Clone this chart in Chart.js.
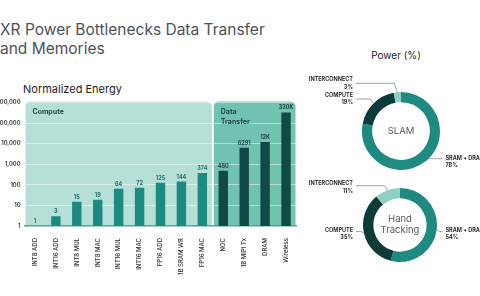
<!DOCTYPE html>
<html><head><meta charset="utf-8">
<script src="https://cdn.jsdelivr.net/npm/chart.js@4"></script>
<style>
html,body{margin:0;padding:0;background:#fff;width:480px;height:296px;overflow:hidden;position:relative;}
.abs{position:absolute;}
#title{left:0;top:21px;font:400 15.5px Inter,sans-serif;color:#4d525a;line-height:18.5px;white-space:nowrap;}
#sub{left:23px;top:82px;font:400 11px Inter,sans-serif;color:#1f2326;white-space:nowrap;}
#ptitle{left:396px;top:49px;transform:translateX(-50%);font:400 10px Inter,sans-serif;color:#1f2326;white-space:nowrap;}
</style></head><body>
<div class="abs" id="title">XR Power Bottlenecks Data Transfer<br>and Memories</div>
<div class="abs" id="sub">Normalized Energy</div>
<div class="abs" id="ptitle">Power (%)</div>
<canvas id="bar" class="abs" style="left:0;top:90px" width="300" height="185"></canvas>
<canvas id="d1" class="abs" style="left:300px;top:60px" width="180" height="120"></canvas>
<canvas id="d2" class="abs" style="left:300px;top:176px" width="180" height="120"></canvas>
<script>
// ---- data ----
const categories = ['INT8 ADD','INT16 ADD','INT8 MUL','INT8 MAC','INT16 MUL','INT16 MAC','FP16 ADD','1B SRAM WR','FP16 MAC','NOC','1B MIPI Tx','DRAM','Wireless'];
const energy = [1,3,15,19,64,72,125,144,374,480,6291,12000,330000];
const energyLabels = ['1','3','15','19','64','72','125','144','374','480','6291','12K','330K'];
const yTicks = [1,10,100,1000,10000,100000,1000000];
const panelNames = [['Compute'],['Data','Transfer']];
const panelSizes = [9,4];
const powerLabels = ['SRAM + DRAM','COMPUTE','INTERCONNECT'];
const slamPower = [78,19,3];
const handPower = [54,35,11];
const slamCenter = ['SLAM'];
const handCenter = ['Hand','Tracking'];

// ---- styles ----
const barColors = ['#1b8a80','#0f4a47'];
const panelColors = ['#b6dfd7','#72c2b1'];
const valueColors = ['#25706a','#1a4542'];
const powerColors = ['#1e8a80','#0d3b3a','#8fd0c3'];

function groupOf(i){let s=0;for(let g=0;g<panelSizes.length;g++){s+=panelSizes[g];if(i<s)return g;}return panelSizes.length-1;}

function panelRects(chart){
  const {chartArea:a, scales:{x}} = chart;
  const half = (x.getPixelForValue(1)-x.getPixelForValue(0))/2;
  let start = 0; const out=[];
  panelSizes.forEach((n,g)=>{
    const l = x.getPixelForValue(start)-half+1;
    const r = x.getPixelForValue(start+n-1)+half-1;
    out.push({l,r,t:a.top-1,b:a.bottom});
    start += n;
  });
  return out;
}

const panelPlugin = {
  id:'panels',
  beforeDraw(chart){
    const {ctx} = chart;
    panelRects(chart).forEach((p,g)=>{
      ctx.save();
      ctx.fillStyle = panelColors[g];
      ctx.beginPath();
      ctx.roundRect(p.l, p.t, p.r-p.l, p.b-p.t, [5,5,0,0]);
      ctx.fill();
      ctx.restore();
    });
  },
  beforeDatasetsDraw(chart){
    const {ctx} = chart;
    panelRects(chart).forEach((p,g)=>{
      ctx.save();
      ctx.fillStyle = '#1d4a47';
      ctx.font = 'bold 7px Inter, sans-serif';
      ctx.textBaseline = 'middle';
      panelNames[g].forEach((line,k)=>ctx.fillText(line, p.l+7, p.t+10+k*10));
      ctx.restore();
    });
  },
  afterDatasetsDraw(chart){
    const {ctx} = chart;
    const meta = chart.getDatasetMeta(0);
    ctx.save();
    ctx.font = 'bold 5.5px Inter, sans-serif';
    ctx.textAlign = 'center';
    ctx.textBaseline = 'alphabetic';
    meta.data.forEach((bar,i)=>{
      ctx.fillStyle = valueColors[groupOf(i)];
      ctx.fillText(energyLabels[i], bar.x, bar.y-3);
    });
    ctx.restore();
  }
};

new Chart(document.getElementById('bar'), {
  type:'bar',
  data:{labels:categories, datasets:[{data:energy, backgroundColor:energy.map((v,i)=>barColors[groupOf(i)]), barPercentage:0.45, categoryPercentage:1}]},
  options:{
    responsive:false, animation:false, devicePixelRatio:1,
    layout:{padding:{top:12.5,right:3.5,left:0,bottom:0}},
    plugins:{legend:{display:false}, tooltip:{enabled:false}},
    scales:{
      x:{
        grid:{display:false},
        border:{display:true,color:'#4fa597',width:1.5},
        ticks:{autoSkip:false,minRotation:90,maxRotation:90,padding:4,color:'#2b2e31',font:{family:'Inter',size:6,weight:'500'}},
        afterFit(s){s.height=49;}
      },
      y:{
        type:'logarithmic', min:1, max:1000000,
        afterBuildTicks(s){s.ticks = yTicks.map(v=>({value:v}));},
        grid:{color:'rgba(255,255,255,0.45)',drawTicks:false,lineWidth:1},
        border:{display:false},
        ticks:{padding:4,color:'#2b2e31',font:{family:'Inter',size:5.8,weight:'600'},callback:(v)=>Number(v).toLocaleString('en-US')},
        afterFit(s){s.width=24.5;}
      }
    }
  },
  plugins:[panelPlugin]
});

function labelPlugin(values, layout, centerLines, origin, gap){
  return {
    id:'donutLabels',
    afterDraw(chart){
      const {ctx} = chart;
      const meta = chart.getDatasetMeta(0);
      ctx.save();
      meta.data.forEach((arc,i)=>{
        const p = arc.getProps(['x','y','startAngle','endAngle','outerRadius'], true);
        const mid = (p.startAngle+p.endAngle)/2;
        const px = p.x+Math.cos(mid)*p.outerRadius, py = p.y+Math.sin(mid)*p.outerRadius;
        const L = layout[i];
        const left = L.side==='left';
        const tx = L.tx-origin[0], ty = L.ty-origin[1], ly = L.ly-origin[1];
        const sx = left ? tx+3 : tx-3;
        const ex = left ? px-3 : px+3;
        ctx.strokeStyle = '#8c8c8c'; ctx.lineWidth = 0.8;
        ctx.beginPath(); ctx.moveTo(sx,ly); ctx.lineTo(ex,ly); ctx.lineTo(px,py); ctx.stroke();
        ctx.fillStyle = '#2a2c2e';
        ctx.font = 'bold 5.5px Inter, sans-serif';
        ctx.textAlign = left ? 'right' : 'left';
        ctx.textBaseline = 'middle';
        ctx.fillText(powerLabels[i], tx, ty);
        ctx.fillText(values[i]+'%', tx, ty+gap);
      });
      const c = meta.data[0];
      ctx.fillStyle = '#55585c';
      ctx.font = '400 9.5px Inter, sans-serif';
      ctx.textAlign = 'center'; ctx.textBaseline = 'middle';
      const n = centerLines.length;
      centerLines.forEach((t,k)=>ctx.fillText(t, c.x, c.y+(k-(n-1)/2)*11));
      ctx.restore();
    }
  };
}

function donut(id, values, cut, pad, layout, centerLines, origin, gap){
  new Chart(document.getElementById(id), {
    type:'doughnut',
    data:{labels:powerLabels, datasets:[{data:values, backgroundColor:powerColors, borderWidth:0}]},
    options:{responsive:false, animation:false, devicePixelRatio:1, cutout:cut, layout:{padding:pad},
      plugins:{legend:{display:false}, tooltip:{enabled:false}}},
    plugins:[labelPlugin(values, layout, centerLines, origin, gap)]
  });
}

donut('d1', slamPower, '74%', {left:62,right:40,top:32,bottom:10}, [
  {side:'right', tx:445.5, ty:158.3, ly:158.7},
  {side:'left', tx:353, ty:95, ly:99},
  {side:'left', tx:353, ty:79.5, ly:83.3}
], slamCenter, [300,60], 7.5);

donut('d2', handPower, '72%', {left:63,right:43,top:12,bottom:34}, [
  {side:'right', tx:445.5, ty:230, ly:231.5},
  {side:'left', tx:353, ty:230, ly:231.5},
  {side:'left', tx:353, ty:183.5, ly:185.7}
], handCenter, [300,176], 7.5);
</script>
</body></html>
